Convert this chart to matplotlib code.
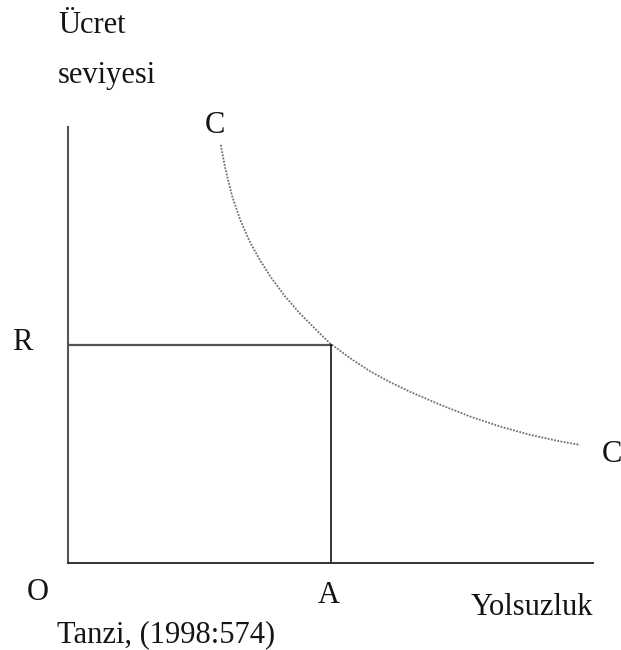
import matplotlib
matplotlib.use("Agg")
import matplotlib.pyplot as plt

# --- DATA (axis units: origin O = (0, 0), axes run 0..10) ---
curve_x = [2.91, 2.99, 3.12, 3.28, 3.47, 3.66, 3.85, 4.13, 4.42, 4.80, 4.99,
           5.37, 5.75, 6.13, 6.51, 7.09, 7.66, 8.23, 8.80, 9.37, 9.75]
curve_y = [9.59, 9.08, 8.44, 7.87, 7.35, 6.94, 6.58, 6.12, 5.72, 5.26, 5.04,
           4.70, 4.40, 4.15, 3.93, 3.63, 3.36, 3.13, 2.94, 2.79, 2.71]
point_A = 5.0   # yolsuzluk level
point_R = 5.0   # ucret level

y_label_lines = ["Ücret", "seviyesi"]
x_label = "Yolsuzluk"
source_note = "Tanzi, (1998:574)"
curve_label = "C"

plt.rcParams['font.family'] = ['Liberation Serif', 'DejaVu Serif']
FS = 22
TXT = '#141414'

fig = plt.figure(figsize=(6.21, 6.5), dpi=100)
ax = fig.add_axes([68/621, 87/650, 525/621, 436/650])
ax.set_xlim(0, 10)
ax.set_ylim(0, 10)
for s in ['top', 'right']:
    ax.spines[s].set_visible(False)
ax.spines['left'].set_color('#555555')
ax.spines['left'].set_linewidth(1.5)
ax.spines['bottom'].set_color('#333333')
ax.spines['bottom'].set_linewidth(1.4)
ax.set_xticks([])
ax.set_yticks([])

# CC curve
ax.plot(curve_x, curve_y, color='#6f6f6f', lw=1.3, linestyle=(0, (1, 0.8)),
        clip_on=False)
# R and A guide lines
ax.plot([0, point_A], [point_R, point_R], color='#555555', lw=1.6)
ax.plot([point_A, point_A], [0, point_R], color='black', lw=1.1)

# labels
ax.text(-0.19, 12.16, y_label_lines[0], fontsize=FS, color=TXT, va='baseline', clip_on=False)
ax.text(-0.19, 11.01, y_label_lines[1], fontsize=FS, color=TXT, va='baseline', clip_on=False)
ax.text(curve_x[0] - 0.11, 9.86, curve_label, fontsize=FS, color=TXT,
        ha='center', va='baseline', clip_on=False)
ax.text(10.17, 2.32, curve_label, fontsize=FS, color=TXT, va='baseline', clip_on=False)
ax.text(-0.87, 4.89, "R", fontsize=FS, color=TXT, ha='center', va='baseline', clip_on=False)
ax.text(-0.78, -0.85, "O", fontsize=FS, color=TXT, va='baseline', clip_on=False)
ax.text(point_A - 0.03, -0.92, "A", fontsize=FS, color=TXT, ha='center', va='baseline', clip_on=False)
ax.text(7.66, -1.19, x_label, fontsize=FS, color=TXT, va='baseline', clip_on=False)
ax.text(-0.21, -1.81, source_note, fontsize=FS, color=TXT, va='baseline', clip_on=False)

fig.savefig('out.png', dpi=100)
